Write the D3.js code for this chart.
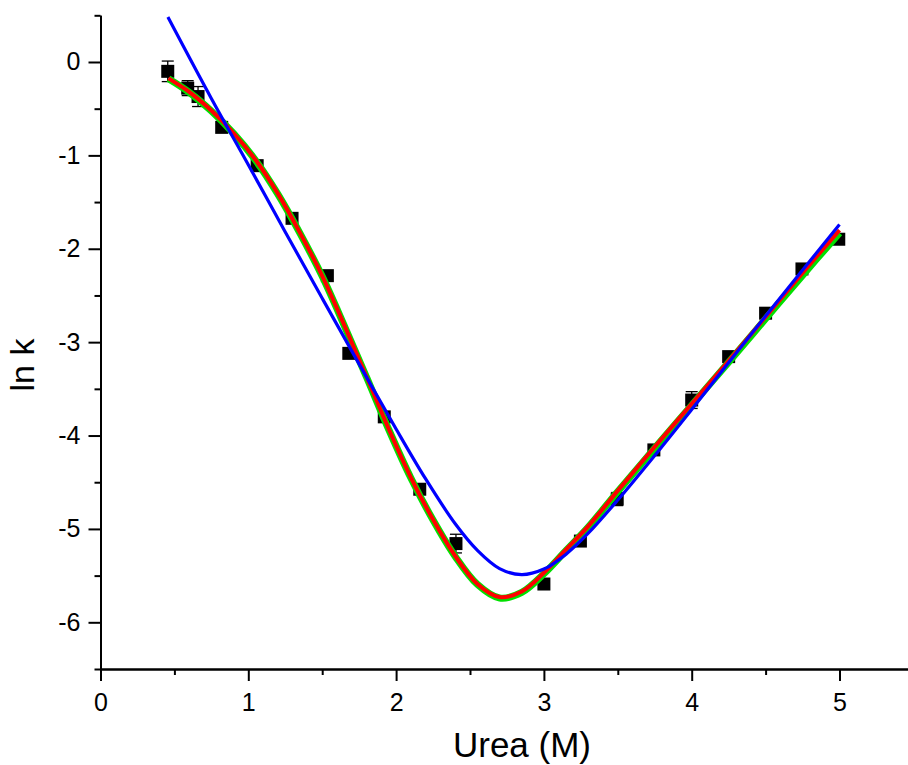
<!DOCTYPE html>
<html>
<head>
<meta charset="utf-8">
<script src="https://cdn.jsdelivr.net/npm/d3@7"></script>
<style>
  html, body { margin: 0; padding: 0; background: #fff; }
  svg { display: block; }
  text { font-family: Arial, "Liberation Sans", sans-serif; fill: #000; }
</style>
</head>
<body>
<svg id="chart" width="908" height="765"></svg>
<script>
// ---- data ----
const ureaX = [0.455, 0.59, 0.66, 0.82, 1.06, 1.296, 1.535, 1.68, 1.92, 2.16, 2.405, 3.0, 3.247, 3.496, 3.744, 4.0, 4.25, 4.5, 4.746, 4.995];
const lnK   = [-0.10, -0.28, -0.37, -0.70, -1.11, -1.674, -2.288, -3.12, -3.80, -4.575, -5.157, -5.59, -5.13, -4.68, -4.154, -3.62, -3.155, -2.69, -2.216, -1.898];
const lnKErr = [0.11, 0.08, 0.107, 0, 0, 0, 0, 0, 0, 0, 0.10, 0, 0, 0.07, 0, 0.09, 0, 0, 0, 0];

const redX = [0.46, 0.6, 0.75, 0.9, 1.05, 1.2, 1.35, 1.5, 1.65, 1.8, 1.95, 2.1, 2.25, 2.4, 2.55, 2.7, 2.85, 3.0, 3.15, 3.3, 3.5, 3.75, 4.0, 4.25, 4.5, 4.75, 5.0];
const redY = [-0.175, -0.32, -0.52, -0.76, -1.05, -1.41, -1.83, -2.29, -2.82, -3.37, -3.93, -4.45, -4.90, -5.29, -5.59, -5.73, -5.67, -5.47, -5.22, -4.97, -4.59, -4.12, -3.66, -3.20, -2.73, -2.26, -1.80];
const greenX = redX;
const greenY = [-0.18, -0.325, -0.525, -0.765, -1.055, -1.415, -1.835, -2.295, -2.825, -3.375, -3.935, -4.455, -4.905, -5.295, -5.595, -5.74, -5.68, -5.48, -5.23, -4.98, -4.60, -4.135, -3.675, -3.215, -2.75, -2.285, -1.83];

const blueX = [0.456, 0.75, 1.0, 1.25, 1.5, 1.75, 2.0, 2.2, 2.4, 2.55, 2.7, 2.85, 3.0, 3.15, 3.3, 3.5, 3.75, 4.0, 4.5, 5.0];
const blueY = [0.482, -0.39, -1.10, -1.82, -2.53, -3.235, -3.93, -4.465, -4.945, -5.23, -5.425, -5.49, -5.43, -5.27, -5.046, -4.69, -4.213, -3.72, -2.72, -1.74];

const xMajorTicks = [0, 1, 2, 3, 4, 5];
const xMinorTicks = [0.5, 1.5, 2.5, 3.5, 4.5, 5.5];
const yMajorTicks = [0, -1, -2, -3, -4, -5, -6];
const yMinorTicks = [0.5, -0.5, -1.5, -2.5, -3.5, -4.5, -5.5, -6.5];
const xTitle = "Urea (M)";
const yTitle = "ln k";

// ---- layout ----
const svg = d3.select("#chart");
const x = d3.scaleLinear().domain([0, 5.5]).range([100.5, 913.4]);
const y = d3.scaleLinear().domain([-6.5, 0.5]).range([669, 15.3]);

const g = svg.append("g");

// points with error bars
const pts = ureaX.map((v, i) => ({ x: v, y: lnK[i], e: lnKErr[i] }));
const eb = g.append("g").attr("stroke", "#000").attr("stroke-width", 1.3);
pts.filter(d => d.e > 0).forEach(d => {
  const cx = x(d.x), y1 = y(d.y + d.e), y2 = y(d.y - d.e);
  eb.append("line").attr("x1", cx).attr("x2", cx).attr("y1", y1).attr("y2", y2);
  eb.append("line").attr("x1", cx - 6).attr("x2", cx + 6).attr("y1", y1).attr("y2", y1);
  eb.append("line").attr("x1", cx - 6).attr("x2", cx + 6).attr("y1", y2).attr("y2", y2);
});
const sq = 13;
g.append("g").selectAll("rect").data(pts).join("rect")
  .attr("x", d => x(d.x) - sq / 2).attr("y", d => y(d.y) - sq / 2)
  .attr("width", sq).attr("height", sq).attr("fill", "#000");

// curves
const line = d3.line().x(d => x(d[0])).y(d => y(d[1])).curve(d3.curveCatmullRom.alpha(0.5));
g.append("path").datum(greenX.map((v, i) => [v, greenY[i]]))
  .attr("d", line).attr("fill", "none").attr("stroke", "#00e000").attr("stroke-width", 7);
g.append("path").datum(redX.map((v, i) => [v, redY[i]]))
  .attr("d", line).attr("fill", "none").attr("stroke", "#ff0000").attr("stroke-width", 4);
g.append("path").datum(blueX.map((v, i) => [v, blueY[i]]))
  .attr("d", line).attr("fill", "none").attr("stroke", "#0000ff").attr("stroke-width", 3.2);

// axes
const xAxis = d3.axisBottom(x).tickValues(xMajorTicks).tickSize(12).tickSizeOuter(0).tickPadding(12).tickFormat(d3.format("d"));
const xAxisMinor = d3.axisBottom(x).tickValues(xMinorTicks).tickSize(6).tickSizeOuter(0).tickFormat("");
const yAxis = d3.axisLeft(y).tickValues(yMajorTicks).tickSize(12).tickSizeOuter(0).tickPadding(8).tickFormat(d3.format("d"));
const yAxisMinor = d3.axisLeft(y).tickValues(yMinorTicks).tickSize(6).tickSizeOuter(0).tickFormat("");

function styleAxis(sel) {
  sel.selectAll("path.domain").attr("stroke", "#000").attr("stroke-width", 2);
  sel.selectAll(".tick line").attr("stroke", "#000").attr("stroke-width", 2);
  sel.selectAll(".tick text").style("font-size", "25px").style("font-family", "Arial, 'Liberation Sans', sans-serif").attr("fill", "#000");
}
svg.append("g").attr("transform", `translate(0,${y(-6.5)})`).call(xAxis).call(styleAxis);
svg.append("g").attr("transform", `translate(0,${y(-6.5)})`).call(xAxisMinor).call(styleAxis);
svg.append("g").attr("transform", `translate(${x(0)},0)`).call(yAxis).call(styleAxis);
svg.append("g").attr("transform", `translate(${x(0)},0)`).call(yAxisMinor).call(styleAxis);
// hyphen-minus like the original
svg.selectAll(".tick text").text(function() { return d3.select(this).text().replace("\u2212", "-"); });

// titles
svg.append("text").attr("x", 522).attr("y", 757)
  .attr("text-anchor", "middle").style("font-size", "35px").text(xTitle);
svg.append("text").attr("transform", `translate(34,365) rotate(-90)`)
  .attr("text-anchor", "middle").style("font-size", "34px").text(yTitle);
</script>
</body>
</html>
